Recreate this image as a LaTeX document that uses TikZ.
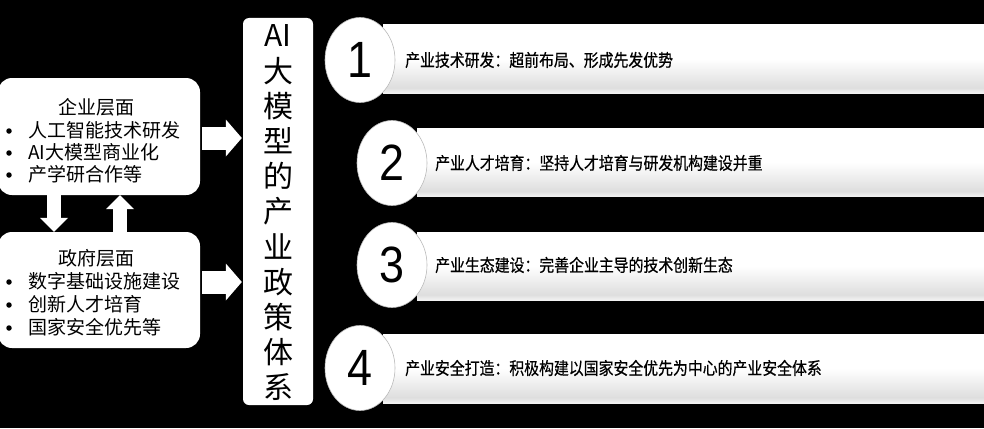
\documentclass[tikz,border=0pt]{standalone}
\usepackage{fontspec}
\setmainfont{Noto Sans CJK SC}
\newfontfamily\narrowcjk[FakeStretch=0.86,FakeBold=0.6]{Noto Sans CJK SC}
\newfontfamily\digitfont[FakeStretch=0.88]{Liberation Sans}
\usetikzlibrary{shapes.geometric,arrows.meta}
\pgfdeclareverticalshading{bannershade}{100bp}{color(0bp)=(gray!10); color(25bp)=(gray!10); color(29bp)=(gray!26); color(50bp)=(white); color(100bp)=(white)}
\begin{document}
\begin{tikzpicture}[x=1pt,y=-1pt,
  lbox/.style={fill=white, rounded corners=14pt, inner sep=0pt, minimum width=202pt},
  cbox/.style={fill=white, rounded corners=6pt, inner sep=0pt, minimum width=70pt, minimum height=387pt},
  ltitle/.style={inner sep=0pt, font=\fontsize{19}{19}\selectfont},
  litem/.style={inner sep=0pt, anchor=west, font=\fontsize{19}{19}\selectfont},
  lbul/.style={circle, fill=black, inner sep=0pt, minimum size=5.5pt},
  harrow/.style={white, line width=23pt, -{Triangle[length=16pt,width=37pt,line width=0pt]}},
  varrow/.style={white, line width=14pt, -{Triangle[length=14pt,width=28pt,line width=0pt]}},
  banner/.style={shading=bannershade, inner sep=0pt, anchor=west, minimum height=68pt},
  numc/.style={ellipse, fill=white, draw=gray!55, line width=0.6pt, minimum width=70pt, minimum height=85pt, inner sep=0pt, font=\digitfont\fontsize{51}{51}\selectfont},
  btext/.style={inner sep=0pt, anchor=west, font=\narrowcjk\fontsize{17.3}{17.3}\selectfont}]
\useasboundingbox (0,0) rectangle (984,428);
\fill[black] (0,0) rectangle (984,428);

% left boxes
\node[lbox, minimum height=117pt] (ent) at (99,136.5) {};
\node[lbox, minimum height=116pt] (gov) at (99,290) {};
\node[ltitle] (entt) at (96,107) {企业层面};
\node[lbul] (eb1) at (9,131) {};
\node[lbul] (eb2) at (9,153) {};
\node[lbul] (eb3) at (9,175) {};
\node[litem] (e1) at (28,130) {人工智能技术研发};
\node[litem] (e2) at (28,152) {AI大模型商业化};
\node[litem] (e3) at (28,174) {产学研合作等};
\node[ltitle] (govt) at (96,258) {政府层面};
\node[lbul] (gb1) at (9,282) {};
\node[lbul] (gb2) at (9,305) {};
\node[lbul] (gb3) at (9,328) {};
\node[litem] (g1) at (28,281) {数字基础设施建设};
\node[litem] (g2) at (28,304) {创新人才培育};
\node[litem] (g3) at (28,327) {国家安全优先等};

% centre box
\node[cbox] (ctr) at (278,211.5) {};
\node[inner sep=0pt, align=center, font=\fontsize{30}{35.2}\selectfont] (ctrt) at (278,213) {AI\\大\\模\\型\\的\\产\\业\\政\\策\\体\\系};

% arrows
\draw[harrow, shorten <=2pt, shorten >=1pt] ([yshift=-1.5pt]ent.east) -- ([yshift=-1.5pt]ent.east -| ctr.west);
\draw[harrow, shorten <=2pt, shorten >=1pt] ([yshift=8pt]gov.east) -- ([yshift=8pt]gov.east -| ctr.west);
\draw[varrow] ([xshift=-45pt]ent.south) -- ([xshift=-45pt]gov.north);
\draw[varrow] ([xshift=21pt]gov.north) -- ([xshift=21pt]ent.south);

% banners
\node[banner, minimum width=601pt] (b1) at (383,59) {};
\node[banner, minimum width=567pt] (b2) at (417,162.5) {};
\node[banner, minimum width=567pt] (b3) at (417,266) {};
\node[banner, minimum width=601pt, minimum height=69pt] (b4) at (383,368.5) {};

\node[numc] (c1) at (360,60) {1};
\node[numc] (c2) at (392,163) {2};
\node[numc] (c3) at (392,265) {3};
\node[numc] (c4) at (360,368) {4};

\node[btext] (t1) at (405,60) {产业技术研发：超前布局、形成先发优势};
\node[btext] (t2) at (435,163) {产业人才培育：坚持人才培育与研发机构建设并重};
\node[btext] (t3) at (435,265) {产业生态建设：完善企业主导的技术创新生态};
\node[btext] (t4) at (405,368) {产业安全打造：积极构建以国家安全优先为中心的产业安全体系};
\end{tikzpicture}
\end{document}
